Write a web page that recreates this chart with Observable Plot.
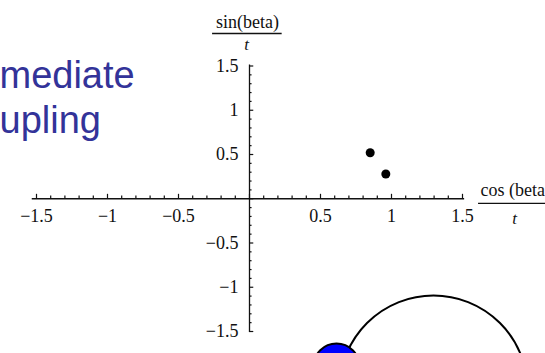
<!DOCTYPE html>
<html><head><meta charset="utf-8">
<script src="https://cdn.jsdelivr.net/npm/d3@7"></script>
<script src="https://cdn.jsdelivr.net/npm/@observablehq/plot@0.6"></script>
<style>
html,body{margin:0;padding:0;background:#fff;overflow:hidden}
#chart svg{display:block;overflow:hidden}
</style>
</head><body><div id="chart"></div>
<script>
// data points (cos(beta)/t, sin(beta)/t)
const pointsX = [0.85, 0.96];
const pointsY = [0.52, 0.28];
// tick labels
const xTickLabels = [-1.5, -1, -0.5, 0.5, 1, 1.5];
const yTickLabels = [-1.5, -1, -0.5, 0.5, 1, 1.5];
const tickMarks = [-1.5,-1.4,-1.3,-1.2,-1.1,-1,-0.9,-0.8,-0.7,-0.6,-0.5,-0.4,-0.3,-0.2,-0.1,0,
                   0.1,0.2,0.3,0.4,0.5,0.6,0.7,0.8,0.9,1,1.1,1.2,1.3,1.4,1.5];
// axis labels (fraction numerator / denominator)
const yAxisLabel = ["sin(beta)", "t"];
const xAxisLabel = ["cos (beta", "t"];
// slide text fragments
const slideText = ["mediate", "upling"];

const points = pointsX.map((x, i) => ({x, y: pointsY[i]}));
const fmt = d => (d < 0 ? "\u2212" + Math.abs(d) : String(d));
const isMajor = d => Math.abs(Math.round(d * 10) % 5) === 0;
const serif = "Liberation Serif, Times New Roman, serif";
const sans = "Liberation Sans, Arial, sans-serif";

const chart = Plot.plot({
  width: 545,
  height: 353,
  marginLeft: 36,
  marginRight: 83,
  marginTop: 65.5,
  marginBottom: 22,
  x: {domain: [-1.5, 1.5], axis: null},
  y: {domain: [-1.5, 1.5], axis: null},
  style: {background: "white"},
  marks: [
    // slide decorations
    Plot.dot([0], {frameAnchor: "bottom-right", dx: -29, dy: 58, r: 94, fill: "white", stroke: "black", strokeWidth: 2}),
    Plot.dot([0], {frameAnchor: "bottom-right", dx: -126, dy: 35, r: 23, fill: "#0000ff", stroke: "black", strokeWidth: 2}),
    // axes through origin
    Plot.ruleY([0], {x1: -1.53, x2: 1.515, stroke: "#111", strokeWidth: 1.3}),
    Plot.ruleX([0], {y1: -1.51, y2: 1.51, stroke: "#111", strokeWidth: 1.3}),
    Plot.ruleX(tickMarks, {x: d => d, y1: 0, y2: d => isMajor(d) ? 0.05 : 0.03, stroke: "#111", strokeWidth: 1.2}),
    Plot.ruleY(tickMarks, {y: d => d, x1: 0, x2: d => isMajor(d) ? 0.03 : 0.018, stroke: "#111", strokeWidth: 1.2}),
    // tick labels
    Plot.text(xTickLabels, {x: d => d, y: 0, text: fmt, dy: 17, fontSize: 18, fontFamily: serif, fill: "#111"}),
    Plot.text(yTickLabels, {x: 0, y: d => d, text: fmt, dx: -11, textAnchor: "end", fontSize: 18, fontFamily: serif, fill: "#111"}),
    // data points
    Plot.dot(points, {x: "x", y: "y", r: 4.5, fill: "black"}),
    // y-axis label fraction
    Plot.text([yAxisLabel[0]], {x: 0, y: 1.5, dx: -2, dy: -44, fontSize: 18, fontFamily: serif, fill: "#111"}),
    Plot.ruleY([1.5], {x1: -0.26, x2: 0.23, dy: -32.5, stroke: "#111", strokeWidth: 1.3}),
    Plot.text([yAxisLabel[1]], {x: 0, y: 1.5, dx: -3, dy: -21, fontSize: 17, fontStyle: "italic", fontFamily: serif, fill: "#111"}),
    // x-axis label fraction
    Plot.text([xAxisLabel[0]], {x: 1.5, y: 0, dx: 18, dy: -9, textAnchor: "start", fontSize: 18, fontFamily: serif, fill: "#111"}),
    Plot.ruleY([0], {x1: 1.613, x2: 2.2, dy: 4.7, stroke: "#111", strokeWidth: 1.3}),
    Plot.text([xAxisLabel[1]], {x: 1.5, y: 0, dx: 52, dy: 20, fontSize: 17, fontStyle: "italic", fontFamily: serif, fill: "#111"}),
    // slide title fragments
    Plot.text([slideText[0]], {frameAnchor: "top-left", dx: -37, dy: -4.7, textAnchor: "start", fontSize: 38, fontFamily: sans, fill: "#333399"}),
    Plot.text([slideText[1]], {frameAnchor: "top-left", dx: -37, dy: 40.3, textAnchor: "start", fontSize: 38, fontFamily: sans, fill: "#333399"})
  ]
});
document.getElementById("chart").appendChild(chart);
</script>
</body></html>
